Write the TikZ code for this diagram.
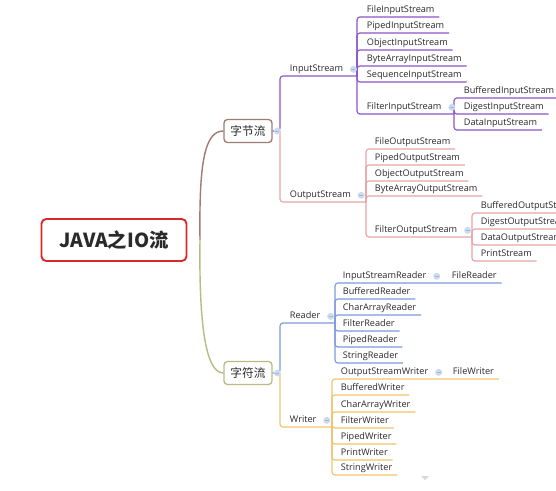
\documentclass[tikz,border=0pt]{standalone}
\usepackage{fontspec}
\setmainfont{Open Sans}
\newfontfamily\cjkfont{Noto Sans CJK SC}
\usetikzlibrary{positioning}

\definecolor{rootred}{HTML}{D8282A}
\definecolor{txtgray}{HTML}{2A2A2A}
\definecolor{zjbrown}{HTML}{9E7C72}
\definecolor{zfolive}{HTML}{B9BB84}
\definecolor{inpurple}{HTML}{8D55C8}
\definecolor{outpink}{HTML}{E8A3A6}
\definecolor{rdblue}{HTML}{7C9BD8}
\definecolor{wrorange}{HTML}{F1C46C}
\definecolor{foldblue}{HTML}{CBDBF0}
\definecolor{foldline}{HTML}{9DB4DC}

\begin{document}
\begin{tikzpicture}[
    x=0.03cm, y=-0.03cm,
    root/.style={draw=rootred, line width=1.6pt, rounded corners=4pt, fill=white,
      minimum width=4.35cm, minimum height=1.26cm,
      font=\cjkfont\bfseries\fontsize{16.5}{19}\selectfont, text=txtgray},
    topic/.style={draw, line width=1.1pt, rounded corners=3pt, fill=white,
      minimum width=1.44cm, minimum height=0.69cm, inner sep=0pt,
      font=\cjkfont\fontsize{10}{12}\selectfont, text=txtgray},
    lbl/.style={anchor=south west, inner xsep=4pt, inner ysep=1.5pt,
      text height=6pt, text depth=2pt,
      font=\fontsize{7.8}{9}\selectfont, text=txtgray},
    fold/.style={circle, fill=foldblue, inner sep=0pt, minimum size=2.1mm,
      path picture={\draw[foldline, line width=0.5pt]
        ([xshift=-0.6mm]path picture bounding box.center) --
        ([xshift=0.6mm]path picture bounding box.center);}},
    conn/.style={line width=1pt, rounded corners=2.5pt},
    inl/.style={conn, inpurple},
    outl/.style={conn, outpink},
    rdl/.style={conn, rdblue},
    wrl/.style={conn, wrorange},
  ]
  \useasboundingbox (0,0) rectangle (556,490);
  \fill[white] (0,0) rectangle (556,490);

  % root and the two main topics
  \node[root] (java) at (114,240) {JAVA之IO流};
  \node[topic, draw=zjbrown] (zj) at (248,131) {字节流};
  \node[topic, draw=zfolive] (zf) at (248,373) {字符流};
  \coordinate (hub) at (200,240);
  \coordinate (jZJ) at (280,131);
  \coordinate (jZF) at (280,373);

  \draw[zjbrown, line width=1.2pt] (hub) .. controls (199,165) and (204,131) .. (zj.west);
  \draw[zfolive, line width=1.2pt] (hub) .. controls (199,315) and (204,373) .. (zf.west);

  % InputStream
  \node[lbl] (is) at (285,76) {InputStream};
  \coordinate (jIS) at (357,76);
  \node[lbl] (fis) at (362,17) {FileInputStream};
  \node[lbl] (pis) at (362,33) {PipedInputStream};
  \node[lbl] (ois) at (362,50) {ObjectInputStream};
  \node[lbl] (bais) at (362,66) {ByteArrayInputStream};
  \node[lbl] (sis) at (362,82) {SequenceInputStream};
  \node[lbl] (filis) at (362,114) {FilterInputStream};
  \coordinate (jFIS) at (454,114);
  \node[lbl] (bis) at (459,98) {BufferedInputStream};
  \node[lbl] (dgis) at (459,114) {DigestInputStream};
  \node[lbl] (dis) at (459,130) {DataInputStream};

  \draw[inl] (zj.east) -- (jZJ) |- (jIS);
  \foreach \n in {fis,pis,ois,bais,sis}
    \draw[inl] (jIS) |- (\n.south east);
  \draw[inl] (jIS) |- (jFIS);
  \foreach \n in {bis,dgis,dis}
    \draw[inl] (jFIS) |- (\n.south east);

  % OutputStream
  \node[lbl] (os) at (285,202) {OutputStream};
  \coordinate (jOS) at (366,202);
  \node[lbl] (fos) at (370,149) {FileOutputStream};
  \node[lbl] (pos) at (370,165) {PipedOutputStream};
  \node[lbl] (oos) at (370,181) {ObjectOutputStream};
  \node[lbl] (baos) at (370,196) {ByteArrayOutputStream};
  \node[lbl] (filos) at (370,237) {FilterOutputStream};
  \coordinate (jFOS) at (472,237);
  \node[lbl] (bos) at (476,213) {BufferedOutputStream};
  \node[lbl] (dgos) at (476,229) {DigestOutputStream};
  \node[lbl] (dos) at (476,245) {DataOutputStream};
  \node[lbl] (ps) at (476,261) {PrintStream};

  \draw[outl] (jZJ) |- (jOS);
  \foreach \n in {fos,pos,oos,baos}
    \draw[outl] (jOS) |- (\n.south east);
  \draw[outl] (jOS) |- (jFOS);
  \foreach \n in {bos,dgos,dos,ps}
    \draw[outl] (jFOS) |- (\n.south east);

  % Reader
  \node[lbl] (rd) at (285,323) {Reader};
  \coordinate (jRD) at (335,323);
  \node[lbl] (isr) at (338,283) {InputStreamReader};
  \coordinate (jISR) at (446,283);
  \node[lbl] (frd) at (447,283) {FileReader};
  \node[lbl] (brd) at (338,299) {BufferedReader};
  \node[lbl] (card) at (338,315) {CharArrayReader};
  \node[lbl] (filrd) at (338,331) {FilterReader};
  \node[lbl] (prd) at (338,347) {PipedReader};
  \node[lbl] (srd) at (338,363) {StringReader};

  \draw[rdl] (zf.east) -- (jZF) |- (jRD);
  \draw[rdl] (jRD) |- (jISR) -- (frd.south east);
  \foreach \n in {brd,card,filrd,prd,srd}
    \draw[rdl] (jRD) |- (\n.south east);

  % Writer
  \node[lbl] (wr) at (285,427) {Writer};
  \coordinate (jWR) at (332,427);
  \node[lbl] (osw) at (336,379) {OutputStreamWriter};
  \coordinate (jOSW) at (447,379);
  \node[lbl] (fwr) at (448,379) {FileWriter};
  \node[lbl] (bwr) at (336,395) {BufferedWriter};
  \node[lbl] (cawr) at (336,412) {CharArrayWriter};
  \node[lbl] (filwr) at (336,428) {FilterWriter};
  \node[lbl] (pwr) at (336,444) {PipedWriter};
  \node[lbl] (prwr) at (336,460) {PrintWriter};
  \node[lbl] (swr) at (336,475) {StringWriter};

  \draw[wrl] (jZF) |- (jWR);
  \draw[wrl] (jWR) |- (jOSW) -- (fwr.south east);
  \foreach \n in {bwr,cawr,filwr,pwr,prwr,swr}
    \draw[wrl] (jWR) |- (\n.south east);

  % fold markers
  \node[fold, right=0.8pt of zj] {};
  \node[fold, right=0.8pt of zf] {};
  \node[fold, right=1.5pt of is] {};
  \node[fold, right=1.5pt of filis] {};
  \node[fold, right=1.5pt of os] {};
  \node[fold, right=1.5pt of filos] {};
  \node[fold, right=1.5pt of rd] {};
  \node[fold, right=1.5pt of isr] {};
  \node[fold, right=1.5pt of wr] {};
  \node[fold, right=1.5pt of osw] {};

  \fill[black!15] (421,476) -- (429,476) -- (425,480) -- cycle;
\end{tikzpicture}
\end{document}
